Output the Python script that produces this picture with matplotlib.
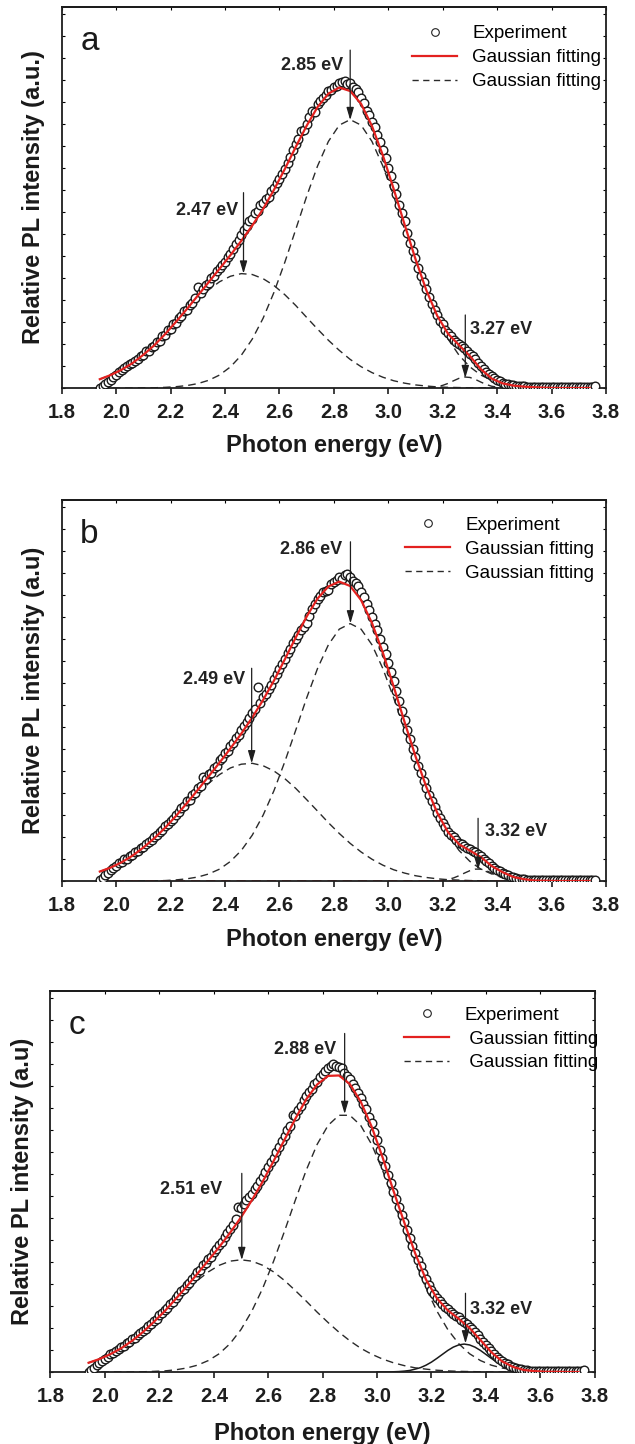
import numpy as np
import matplotlib
matplotlib.use("Agg")
import matplotlib.pyplot as plt
from matplotlib.lines import Line2D

plt.rcParams['font.family'] = ['Liberation Sans', 'DejaVu Sans']

# ---------------- data ----------------
# shared energy grid for the fitted curves (eV)
fit_energy = np.linspace(1.94, 3.74, 46)

# ---- panel a ----
exp_a = [0.02, 0.10, 0.18, 0.28, 0.38, 0.50, 0.58, 0.72, 0.80, 0.92,
         0.98, 1.08, 1.12, 1.25, 1.30, 1.45, 1.50, 1.66, 1.70, 1.86,
         1.92, 2.10, 2.15, 2.36, 2.42, 2.62, 2.70, 2.90, 2.96, 3.20,
         3.26, 3.48, 3.55, 3.78, 3.85, 4.08, 4.60, 4.32, 4.48, 4.70,
         4.78, 5.00, 5.10, 5.30, 5.45, 5.60, 5.75, 5.95, 6.10, 6.30,
         6.55, 6.75, 6.95, 7.20, 7.35, 7.60, 7.70, 7.95, 8.05, 8.30,
         8.40, 8.60, 8.70, 8.95, 9.10, 9.30, 9.50, 9.75, 9.95, 10.25,
         10.50, 10.80, 11.10, 11.30, 11.70, 11.75, 12.00, 12.30, 12.60, 12.55,
         12.90, 13.05, 13.20, 13.30, 13.50, 13.55, 13.70, 13.75, 13.85, 13.90,
         13.95, 13.80, 13.85, 13.70, 13.60, 13.45, 13.20, 12.95, 12.60, 12.40,
         12.10, 11.85, 11.50, 11.20, 10.80, 10.45, 10.00, 9.65, 9.20, 8.80,
         8.30, 7.95, 7.60, 7.05, 6.60, 6.25, 5.90, 5.45, 5.10, 4.80,
         4.50, 4.15, 3.80, 3.55, 3.30, 3.05, 2.90, 2.65, 2.50, 2.35,
         2.20, 2.10, 2.00, 1.90, 1.80, 1.70, 1.55, 1.45, 1.30, 1.15,
         1.00, 0.88, 0.75, 0.65, 0.55, 0.45, 0.38, 0.30, 0.25, 0.20,
         0.17, 0.14, 0.12, 0.10, 0.09, 0.08, 0.07,
         0.06, 0.05, 0.06, 0.04, 0.05, 0.06, 0.05, 0.04, 0.05, 0.06,
         0.05, 0.05, 0.04, 0.06, 0.05, 0.04, 0.05, 0.06, 0.05, 0.04,
         0.05, 0.05, 0.06, 0.04, 0.05, 0.07]
fit_a = [0.40, 0.59, 0.83, 1.13, 1.51, 1.94, 2.45, 3.01, 3.59, 4.20,
         4.81, 5.42, 6.04, 6.69, 7.38, 8.14, 9.01, 9.96, 10.96, 11.92,
         12.77, 13.38, 13.66, 13.50, 12.92, 11.91, 10.58, 9.04, 7.43, 5.86,
         4.44, 3.28, 2.46, 1.95, 1.45, 0.86, 0.43, 0.21, 0.11, 0.06,
         0.03, 0.01, 0.0, 0.0, 0.0, 0.0]
peak1_a = [0.40, 0.59, 0.83, 1.13, 1.50, 1.93, 2.42, 2.95, 3.48, 4.00,
           4.46, 4.83, 5.08, 5.20, 5.16, 4.97, 4.66, 4.24, 3.75, 3.21,
           2.68, 2.17, 1.71, 1.30, 0.97, 0.70, 0.49, 0.33, 0.22, 0.14,
           0.09, 0.05, 0.03, 0.02, 0.01, 0.0, 0.0, 0.0, 0.0, 0.0,
           0.0, 0.0, 0.0, 0.0, 0.0, 0.0]
peak2_a = [0.0, 0.0, 0.0, 0.0, 0.01, 0.01, 0.03, 0.06, 0.11, 0.20,
           0.35, 0.59, 0.96, 1.49, 2.22, 3.17, 4.35, 5.72, 7.21, 8.71,
           10.09, 11.21, 11.95, 12.20, 11.95, 11.21, 10.09, 8.71, 7.21, 5.72,
           4.35, 3.17, 2.22, 1.49, 0.96, 0.59, 0.35, 0.20, 0.11, 0.06,
           0.03, 0.01, 0.01, 0.0, 0.0, 0.0]
peak3_a_energy = np.linspace(3.10, 3.46, 19)
peak3_a = [0.00, 0.00, 0.01, 0.02, 0.06, 0.12, 0.21, 0.33, 0.44, 0.50,
           0.48, 0.39, 0.27, 0.16, 0.08, 0.04, 0.01, 0.00, 0.00]

# ---- panel b ----
exp_b = [0.05, 0.15, 0.25, 0.38, 0.48, 0.58, 0.68, 0.80, 0.86, 0.98,
         1.02, 1.15, 1.18, 1.30, 1.36, 1.48, 1.55, 1.68, 1.76, 1.88,
         1.98, 2.10, 2.22, 2.34, 2.48, 2.58, 2.74, 2.84, 3.02, 3.12,
         3.32, 3.40, 3.62, 3.70, 3.92, 4.00, 4.22, 4.30, 4.72, 4.62,
         4.85, 4.92, 5.15, 5.25, 5.48, 5.58, 5.80, 5.92, 6.15, 6.28,
         6.50, 6.62, 6.85, 7.05, 7.25, 7.40, 7.62, 7.80, 8.80, 8.10,
         8.35, 8.50, 8.75, 8.92, 9.20, 9.40, 9.65, 9.85, 10.10, 10.35,
         10.55, 10.80, 11.00, 11.20, 11.40, 11.55, 11.75, 12.05, 12.35, 12.60,
         12.80, 12.95, 13.15, 13.20, 13.25, 13.50, 13.60, 13.70, 13.80, 13.75,
         13.90, 13.95, 13.80, 13.65, 13.55, 13.40, 13.15, 12.90, 12.60, 12.30,
         12.00, 11.70, 11.40, 11.00, 10.65, 10.30, 9.90, 9.50, 9.10, 8.65,
         8.20, 7.75, 7.30, 6.85, 6.45, 6.00, 5.65, 5.25, 4.90, 4.55,
         4.25, 3.90, 3.65, 3.35, 3.10, 2.85, 2.65, 2.45, 2.25, 2.10,
         1.98, 1.85, 1.75, 1.68, 1.60, 1.52, 1.45, 1.38, 1.30, 1.22,
         1.12, 1.00, 0.90, 0.80, 0.70, 0.60, 0.52, 0.44, 0.36, 0.30,
         0.25, 0.20, 0.16, 0.13, 0.11, 0.09, 0.08,
         0.06, 0.05, 0.05, 0.04, 0.06, 0.05, 0.05, 0.04, 0.05, 0.06,
         0.05, 0.04, 0.05, 0.05, 0.06, 0.04, 0.05, 0.05, 0.06, 0.05,
         0.04, 0.05, 0.05, 0.06, 0.05, 0.06]
fit_b = [0.43, 0.61, 0.85, 1.15, 1.52, 1.94, 2.42, 2.96, 3.54, 4.14,
         4.76, 5.38, 6.03, 6.70, 7.43, 8.23, 9.11, 10.08, 11.07, 12.02,
         12.84, 13.39, 13.61, 13.41, 12.77, 11.73, 10.38, 8.83, 7.22, 5.67,
         4.27, 3.10, 2.21, 1.67, 1.38, 1.09, 0.68, 0.40, 0.18, 0.08,
         0.02, 0.01, 0.0, 0.0, 0.0, 0.0]
peak1_b = [0.43, 0.61, 0.85, 1.15, 1.51, 1.93, 2.40, 2.91, 3.44, 3.96,
           4.44, 4.84, 5.14, 5.31, 5.35, 5.24, 5.00, 4.65, 4.21, 3.70,
           3.18, 2.65, 2.16, 1.71, 1.32, 0.99, 0.72, 0.51, 0.36, 0.24,
           0.16, 0.10, 0.06, 0.04, 0.02, 0.01, 0.0, 0.0, 0.0, 0.0,
           0.0, 0.0, 0.0, 0.0, 0.0, 0.0]
peak2_b = [0.0, 0.0, 0.0, 0.0, 0.01, 0.01, 0.02, 0.05, 0.10, 0.18,
           0.32, 0.54, 0.89, 1.39, 2.08, 2.99, 4.11, 5.43, 6.86, 8.32,
           9.66, 10.74, 11.45, 11.70, 11.45, 10.74, 9.66, 8.32, 6.86, 5.43,
           4.11, 2.99, 2.08, 1.39, 0.89, 0.54, 0.32, 0.18, 0.10, 0.05,
           0.02, 0.01, 0.01, 0.0, 0.0, 0.0]
peak3_b_energy = np.linspace(3.14, 3.52, 20)
peak3_b = [0.00, 0.00, 0.01, 0.03, 0.07, 0.14, 0.24, 0.36, 0.47, 0.54,
           0.54, 0.47, 0.36, 0.24, 0.14, 0.07, 0.03, 0.01, 0.00, 0.00]
baseline_b_energy = [1.94, 3.76]
baseline_b = [0.0, 0.0]

# ---- panel c ----
exp_c = [0.02, 0.10, 0.20, 0.30, 0.40, 0.50, 0.60, 0.70, 0.80, 0.88,
         0.96, 1.04, 1.12, 1.20, 1.30, 1.38, 1.48, 1.56, 1.68, 1.76,
         1.88, 1.96, 2.10, 2.18, 2.34, 2.42, 2.58, 2.66, 2.84, 2.92,
         3.10, 3.20, 3.38, 3.48, 3.66, 3.76, 3.95, 4.05, 4.25, 4.35,
         4.55, 4.65, 4.85, 4.95, 5.15, 5.25, 5.45, 5.58, 5.78, 5.92,
         6.12, 6.30, 6.50, 6.70, 6.95, 7.50, 7.45, 7.65, 7.80, 7.95,
         8.10, 8.30, 8.45, 8.70, 8.85, 9.10, 9.30, 9.55, 9.75, 10.00,
         10.25, 10.50, 10.75, 11.00, 11.20, 11.70, 11.65, 11.90, 12.10, 12.35,
         12.55, 12.75, 12.85, 13.10, 13.20, 13.40, 13.55, 13.70, 13.80, 13.90,
         14.00, 13.90, 13.85, 13.80, 13.60, 13.45, 13.30, 13.10, 12.90, 12.70,
         12.45, 12.20, 11.95, 11.60, 11.30, 10.90, 10.55, 10.10, 9.75, 9.35,
         8.95, 8.60, 8.20, 7.85, 7.50, 7.15, 6.80, 6.45, 6.10, 5.75,
         5.40, 5.10, 4.80, 4.50, 4.22, 3.95, 3.75, 3.55, 3.38, 3.22,
         3.08, 2.95, 2.85, 2.75, 2.65, 2.55, 2.48, 2.38, 2.28, 2.18,
         2.06, 1.95, 1.82, 1.68, 1.52, 1.38, 1.22, 1.08, 0.94, 0.82,
         0.70, 0.60, 0.50, 0.42, 0.35, 0.28, 0.23, 0.18, 0.15, 0.12,
         0.10, 0.08,
         0.06, 0.05, 0.05, 0.06, 0.04, 0.05, 0.05, 0.06, 0.05, 0.04,
         0.05, 0.06, 0.05, 0.05, 0.04, 0.05, 0.06, 0.05, 0.04, 0.05,
         0.07]
fit_c = [0.42, 0.59, 0.81, 1.08, 1.42, 1.82, 2.28, 2.77, 3.32, 3.88,
         4.47, 5.07, 5.68, 6.33, 7.03, 7.81, 8.66, 9.59, 10.56, 11.52,
         12.40, 13.07, 13.46, 13.48, 13.09, 12.29, 11.16, 9.77, 8.25, 6.80,
         5.40, 4.20, 3.35, 2.80, 2.42, 2.00, 1.45, 0.90, 0.48, 0.23,
         0.09, 0.04, 0.01, 0.01, 0.0, 0.0]
peak1_c = [0.42, 0.59, 0.81, 1.08, 1.42, 1.81, 2.25, 2.72, 3.22, 3.70,
           4.16, 4.55, 4.85, 5.04, 5.10, 5.04, 4.85, 4.55, 4.16, 3.70,
           3.22, 2.72, 2.25, 1.81, 1.42, 1.08, 0.81, 0.59, 0.42, 0.29,
           0.19, 0.13, 0.08, 0.05, 0.03, 0.02, 0.01, 0.0, 0.0, 0.0,
           0.0, 0.0, 0.0, 0.0, 0.0, 0.0]
peak2_c = [0.0, 0.0, 0.0, 0.0, 0.0, 0.01, 0.03, 0.05, 0.10, 0.18,
           0.31, 0.52, 0.83, 1.29, 1.93, 2.77, 3.81, 5.04, 6.40, 7.82,
           9.18, 10.35, 11.21, 11.67, 11.67, 11.21, 10.35, 9.18, 7.82, 6.40,
           5.04, 3.81, 2.77, 1.93, 1.29, 0.83, 0.52, 0.31, 0.18, 0.10,
           0.05, 0.03, 0.01, 0.01, 0.0, 0.0]
peak3_c_energy = np.linspace(3.00, 3.60, 31)
peak3_c = [0.00, 0.00, 0.00, 0.01, 0.02, 0.04, 0.07, 0.13, 0.20, 0.31,
           0.45, 0.62, 0.80, 0.98, 1.13, 1.23, 1.27, 1.23, 1.13, 0.98,
           0.80, 0.62, 0.45, 0.31, 0.20, 0.13, 0.07, 0.04, 0.02, 0.01,
           0.00]

x_ticks = [1.8, 2.0, 2.2, 2.4, 2.6, 2.8, 3.0, 3.2, 3.4, 3.6, 3.8]
peak_labels_a = ['2.47 eV', '2.85 eV', '3.27 eV']
peak_labels_b = ['2.49 eV', '2.86 eV', '3.32 eV']
peak_labels_c = ['2.51 eV', '2.88 eV', '3.32 eV']
ylabels = ['Relative PL intensity (a.u.)', 'Relative PL intensity (a.u)',
           'Relative PL intensity (a.u)']


def exp_energy(values):
    return 1.94 + 0.01 * np.arange(len(values))


# ---------------- layout / style ----------------
RED = '#e3211f'
DARK = '#1e1e1e'

panels = [
    dict(rect=[0.0972, 0.7313, 0.8571, 0.26385], letter='a',
         exp=exp_a, fit=fit_a, p1=peak1_a, p2=peak2_a,
         p3x=peak3_a_energy, p3=peak3_a, p3solid=False, base=None,
         labels=peak_labels_a, ylabel=ylabels[0], xlabelpad=9,
         arr_x=[2.468, 2.860, 3.283], arr_top=[8.88, 15.36, 3.32],
         arr_tip=[5.20, 12.18, 0.45],
         lab_x=[2.449, 2.834, 3.301], lab_y=[8.09, 14.68, 2.64],
         lab_ha=['right', 'right', 'left'],
         leg_xy=(0.6436, 0.952), leg_lab=['Experiment', 'Gaussian fitting', 'Gaussian fitting']),
    dict(rect=[0.0972, 0.38989, 0.8571, 0.26385], letter='b',
         exp=exp_b, fit=fit_b, p1=peak1_b, p2=peak2_b,
         p3x=peak3_b_energy, p3=peak3_b, p3solid=False,
         base=(baseline_b_energy, baseline_b),
         labels=peak_labels_b, ylabel=ylabels[1], xlabelpad=10,
         arr_x=[2.498, 2.861, 3.330], arr_top=[9.67, 15.42, 2.85],
         arr_tip=[5.35, 11.71, 0.50],
         lab_x=[2.473, 2.831, 3.356], lab_y=[9.14, 15.08, 2.24],
         lab_ha=['right', 'right', 'left'],
         leg_xy=(0.631, 0.956), leg_lab=['Experiment', 'Gaussian fitting', 'Gaussian fitting']),
    dict(rect=[0.0795, 0.04986, 0.8571, 0.26385], letter='c',
         exp=exp_c, fit=fit_c, p1=peak1_c, p2=peak2_c,
         p3x=peak3_c_energy, p3=peak3_c, p3solid=True, base=None,
         labels=peak_labels_c, ylabel=ylabels[2], xlabelpad=12,
         arr_x=[2.503, 2.881, 3.325], arr_top=[9.03, 15.39, 3.58],
         arr_tip=[5.09, 11.73, 1.30],
         lab_x=[2.431, 2.851, 3.341], lab_y=[8.30, 14.68, 2.82],
         lab_ha=['right', 'right', 'left'],
         leg_xy=(0.650, 0.959), leg_lab=['Experiment', ' Gaussian fitting', ' Gaussian fitting']),
]

fig = plt.figure(figsize=(6.35, 14.44), dpi=100)
DASH = (0, (5.5, 3.6))

for p in panels:
    ax = fig.add_axes(p['rect'])
    # components
    ax.plot(fit_energy, p['p1'], ls=DASH, color='#2a2a2a', lw=1.0, zorder=2)
    ax.plot(fit_energy, p['p2'], ls=DASH, color='#2a2a2a', lw=1.0, zorder=2)
    if p['p3solid']:
        ax.plot(p['p3x'], p['p3'], ls='-', color='#1a1a1a', lw=1.1, zorder=2)
    else:
        ax.plot(p['p3x'], p['p3'], ls=DASH, color='#2a2a2a', lw=1.0, zorder=2)
    if p['base'] is not None:
        ax.plot(p['base'][0], p['base'][1], ls=DASH, color=RED, lw=1.2, zorder=2)
    # experiment
    ax.plot(exp_energy(p['exp']), p['exp'], ls='none', marker='o', ms=6.2,
            mfc='white', mec='#1a1a1a', mew=1.0, zorder=3)
    # total fit
    ax.plot(fit_energy, p['fit'], color=RED, lw=1.6, zorder=4)

    # arrows + labels
    for xa, yt, yp, lab, lx, ly, ha in zip(p['arr_x'], p['arr_top'], p['arr_tip'],
                                           p['labels'], p['lab_x'], p['lab_y'], p['lab_ha']):
        ax.annotate('', xy=(xa, yp), xytext=(xa, yt),
                    arrowprops=dict(arrowstyle='-|>,head_length=0.75,head_width=0.22',
                                    color=DARK, lw=0.9, shrinkA=0, shrinkB=0),
                    zorder=6)
        ax.text(lx, ly, lab, ha=ha, va='center', fontsize=13, fontweight='bold',
                color='#222222', zorder=6)

    # axes style
    ax.set_xlim(1.8, 3.8)
    ax.set_ylim(0, 17.32)
    ax.set_xticks(x_ticks)
    ax.set_xticklabels(['%.1f' % t for t in x_ticks])
    ax.set_yticks(np.arange(0, 18, 1))
    ax.tick_params(axis='x', direction='out', length=4, width=1.2, pad=6.5,
                   labelsize=14.5, colors=DARK)
    ax.tick_params(axis='y', direction='in', length=2, width=0.8,
                   left=True, right=True, labelleft=False)
    for lbl in ax.get_xticklabels():
        lbl.set_fontweight('bold')
    top = ax.secondary_xaxis('top')
    top.set_xticks(x_ticks)
    top.tick_params(direction='in', length=2.5, width=0.8, labeltop=False)
    top.spines['top'].set_linewidth(1.3)
    for s in ax.spines.values():
        s.set_linewidth(1.3)
        s.set_color(DARK)

    ax.set_xlabel('Photon energy (eV)', fontsize=17, fontweight='bold',
                  labelpad=p['xlabelpad'], color='#1a1a1a')
    ax.set_ylabel(p['ylabel'], fontsize=17, fontweight='bold', labelpad=12,
                  color='#1a1a1a')

    ax.text(0.034, 0.887, p['letter'], transform=ax.transAxes, fontsize=24,
            va='baseline', ha='left', color='#1a1a1a')

    handles = [Line2D([], [], ls='none', marker='o', ms=5.5, mfc='white',
                      mec='#222222', mew=0.8),
               Line2D([], [], color=RED, lw=1.6),
               Line2D([], [], color='#2a2a2a', lw=1.0, ls=(0, (4.5, 3.2)))]
    ax.legend(handles, p['leg_lab'], loc='upper left', bbox_to_anchor=p['leg_xy'],
              frameon=False, fontsize=13.5, handlelength=2.4, handletextpad=0.8,
              labelspacing=0.36, borderpad=0, borderaxespad=0)

fig.savefig('out.png', dpi=100)
